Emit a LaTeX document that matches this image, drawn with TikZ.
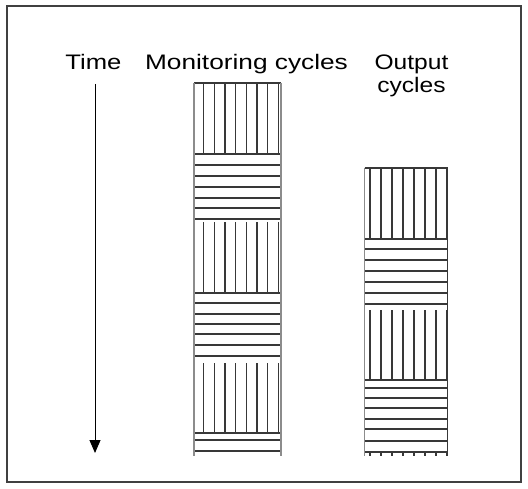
\documentclass[tikz,border=0pt]{standalone}
\usepackage{fontspec}
\setmainfont{Liberation Sans}
\usetikzlibrary{arrows.meta}
\tikzset{
  hatch/.style={line width=1.2bp, draw=black!78},
  edgeline/.style={line width=1.1bp, draw=black!45},
  frame/.style={line width=1.1bp, draw=black!75},
  lbl/.style={font=\fontsize{21bp}{24bp}\selectfont, inner sep=0pt, anchor=base},
  timearrow/.style={line width=1bp, draw=black, -{Triangle[length=13bp,width=11bp]}}
}
\begin{document}
\begin{tikzpicture}[x=1bp,y=-1bp]
\useasboundingbox (0,0) rectangle (528,489);
\draw[frame] (7,6) rectangle (521,482);
% labels
\node[lbl] (time) at (93.4,69.5) {\scalebox{1.22}[1]{Time}};
\node[lbl] (mon) at (246.5,69.5) {\scalebox{1.25}[1]{Monitoring cycles}};
\node[lbl] (out1) at (411.5,69.5) {\scalebox{1.17}[1]{Output}};
\node[lbl] (out2) at (411.5,93) {\scalebox{1.17}[1]{cycles}};
% time arrow
\coordinate (tstart) at (95,84);
\coordinate (tend) at (95,453);
\draw[timearrow] (tstart) -- (tend);
% monitoring column
\foreach \a/\b in {83/154, 222/293, 363/433} {
  \foreach \k in {0,...,7} \draw[hatch] ({203.5+\k*10.7},\a) -- ({203.5+\k*10.7},\b);
}
\foreach \y in {83,154,165,176,187,198,208,219,293,303,314,324,334,345,356,433,440,451}
  \draw[hatch] (194,\y) -- (281,\y);
\draw[edgeline] (194,83) -- (194,456);
\draw[edgeline] (281,83) -- (281,456);
% output column
\foreach \a/\b in {168/239, 310/380, 452/456} {
  \foreach \k in {0,...,7} \draw[hatch] ({370+\k*11},\a) -- ({370+\k*11},\b);
}
\foreach \y in {168,239,249,260,271,282,293,304,380,388,398,408,419,429,441,452}
  \draw[hatch] (364.5,\y) -- (448,\y);
\draw[edgeline] (364.5,168) -- (364.5,456);
\draw[hatch] (447.5,168) -- (447.5,456);
\end{tikzpicture}
\end{document}
